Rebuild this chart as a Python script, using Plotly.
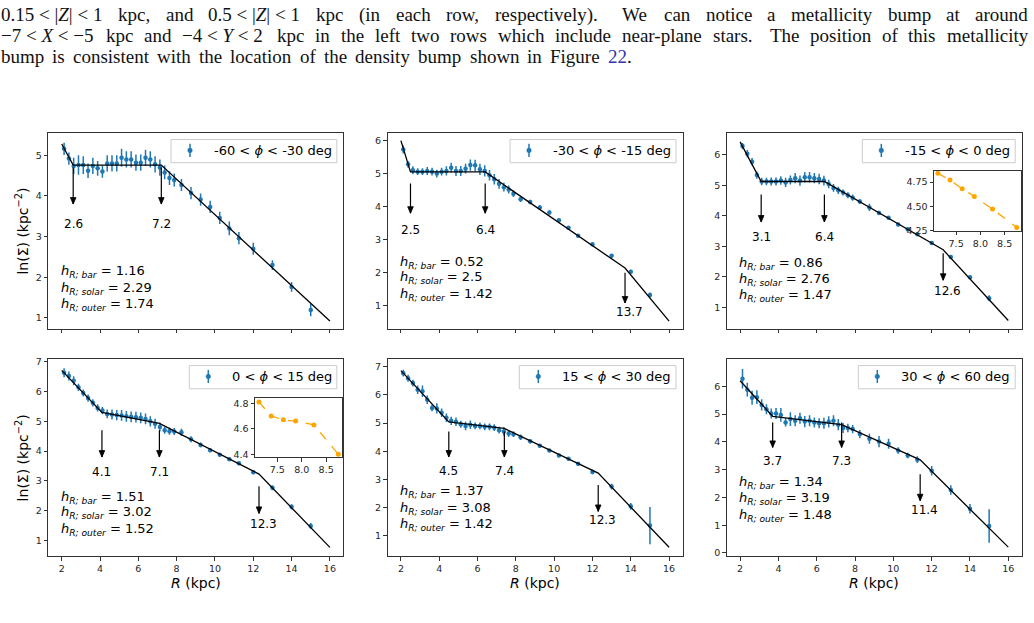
import re
import plotly.graph_objects as go

W, H = 1034, 623

# ------------------------------------------------------------------ data
R_KPC = [2.125, 2.375, 2.625, 2.875, 3.125, 3.375, 3.625, 3.875, 4.125, 4.375,
         4.625, 4.875, 5.125, 5.375, 5.625, 5.875, 6.125, 6.375, 6.625, 6.875,
         7.125, 7.375, 7.625, 7.875, 8.25, 8.75, 9.25, 9.75, 10.25, 10.75,
         11.25, 12.0, 13.0, 14.0, 15.0]

LN_SIGMA_P1 = [5.16, 4.92, 4.74, 4.76, 4.76, 4.62, 4.74, 4.68, 4.60, 4.80,
               4.80, 4.80, 4.94, 4.90, 4.90, 4.82, 4.82, 4.94, 4.90, 4.78,
               4.70, 4.58, 4.44, 4.39, 4.27, 4.07, 3.91, 3.73, 3.46, 3.20,
               2.96, 2.70, 2.30, 1.76, 1.19]
ERR_P1 = [0.15, 0.15, 0.20, 0.24, 0.22, 0.18, 0.20, 0.18, 0.15, 0.20,
          0.20, 0.20, 0.22, 0.20, 0.20, 0.20, 0.20, 0.20, 0.20, 0.20,
          0.20, 0.17, 0.17, 0.16, 0.15, 0.15, 0.15, 0.15, 0.15, 0.17,
          0.15, 0.15, 0.12, 0.12, 0.15]

LN_SIGMA_P2 = [5.73, 5.28, 5.10, 5.06, 5.06, 5.08, 5.06, 5.00, 5.06, 5.08,
               5.18, 5.08, 5.08, 5.15, 5.26, 5.25, 5.13, 5.08, 4.95, 4.83,
               4.69, 4.59, 4.52, 4.39, 4.22, 4.14, 3.97, 3.82, 3.59, 3.36,
               3.12, 2.86, 2.51, 2.03, 1.32]
ERR_P2 = [0.12, 0.10, 0.12, 0.10, 0.10, 0.12, 0.12, 0.12, 0.12, 0.14,
          0.15, 0.15, 0.15, 0.15, 0.17, 0.17, 0.17, 0.17, 0.16, 0.16,
          0.15, 0.13, 0.12, 0.10, 0.08, 0.07, 0.07, 0.06, 0.05, 0.05,
          0.05, 0.04, 0.05, 0.06, 0.08]

LN_SIGMA_P3 = [6.29, 6.04, 5.78, 5.34, 5.13, 5.13, 5.13, 5.13, 5.16, 5.10,
               5.18, 5.24, 5.16, 5.27, 5.27, 5.24, 5.21, 5.16, 5.05, 4.92,
               4.84, 4.77, 4.68, 4.60, 4.47, 4.28, 4.10, 3.94, 3.72, 3.56,
               3.40, 3.11, 2.65, 1.99, 1.30]
ERR_P3 = [0.10, 0.12, 0.12, 0.12, 0.12, 0.12, 0.13, 0.13, 0.14, 0.15,
          0.15, 0.17, 0.17, 0.17, 0.17, 0.17, 0.17, 0.16, 0.14, 0.13,
          0.12, 0.10, 0.10, 0.10, 0.08, 0.12, 0.07, 0.06, 0.06, 0.05,
          0.05, 0.05, 0.05, 0.06, 0.10]

LN_SIGMA_P4 = [6.63, 6.52, 6.36, 6.14, 5.95, 5.78, 5.62, 5.45, 5.36, 5.25,
               5.23, 5.21, 5.20, 5.17, 5.15, 5.14, 5.12, 5.08, 5.00, 4.92,
               4.81, 4.70, 4.67, 4.66, 4.63, 4.40, 4.21, 4.03, 3.88, 3.73,
               3.59, 3.29, 2.77, 2.13, 1.49]
ERR_P4 = [0.15, 0.15, 0.15, 0.12, 0.12, 0.12, 0.12, 0.12, 0.12, 0.15,
          0.17, 0.17, 0.18, 0.18, 0.18, 0.18, 0.18, 0.18, 0.17, 0.17,
          0.15, 0.12, 0.12, 0.12, 0.12, 0.10, 0.08, 0.07, 0.06, 0.06,
          0.06, 0.07, 0.08, 0.09, 0.10]

LN_SIGMA_P5 = [6.77, 6.59, 6.42, 6.18, 6.13, 5.83, 5.54, 5.52, 5.37, 5.19,
               5.08, 5.05, 4.96, 4.90, 4.94, 4.90, 4.90, 4.87, 4.87, 4.84,
               4.75, 4.70, 4.63, 4.61, 4.50, 4.36, 4.20, 4.03, 3.85, 3.74,
               3.56, 3.27, 2.75, 2.05, 1.37]
ERR_P5 = [0.12, 0.12, 0.12, 0.15, 0.20, 0.15, 0.12, 0.18, 0.15, 0.15,
          0.15, 0.15, 0.12, 0.15, 0.15, 0.12, 0.12, 0.12, 0.12, 0.12,
          0.12, 0.15, 0.12, 0.10, 0.10, 0.08, 0.06, 0.05, 0.05, 0.06,
          0.06, 0.08, 0.10, 0.12, 0.66]

LN_SIGMA_P6 = [6.27, 5.88, 5.59, 5.61, 5.33, 5.17, 5.02, 5.02, 4.97, 4.70,
               4.82, 4.76, 4.85, 4.73, 4.76, 4.70, 4.67, 4.67, 4.72, 4.76,
               4.62, 4.50, 4.50, 4.46, 4.28, 4.11, 4.01, 3.93, 3.69, 3.51,
               3.36, 2.96, 2.27, 1.59, 0.97]
ERR_P6 = [0.35, 0.25, 0.25, 0.25, 0.20, 0.18, 0.18, 0.20, 0.25, 0.15,
          0.25, 0.20, 0.20, 0.20, 0.20, 0.18, 0.18, 0.20, 0.20, 0.20,
          0.20, 0.18, 0.15, 0.15, 0.15, 0.18, 0.20, 0.18, 0.12, 0.10,
          0.12, 0.17, 0.17, 0.17, 0.60]

# broken-line fits (nodes: start, breaks..., end)
FIT_R_P1 = [2.0, 2.6, 7.2, 16.0]
FIT_Y_P1 = [5.28, 4.76, 4.76, 0.92]
FIT_R_P2 = [2.0, 2.5, 6.4, 13.7, 16.0]
FIT_Y_P2 = [6.00, 5.05, 5.05, 2.14, 0.53]
FIT_R_P3 = [2.0, 3.1, 6.4, 12.6, 16.0]
FIT_Y_P3 = [6.43, 5.13, 5.13, 2.89, 0.57]
FIT_R_P4 = [2.0, 4.1, 7.1, 12.3, 16.0]
FIT_Y_P4 = [6.71, 5.30, 4.93, 3.23, 0.77]
FIT_R_P5 = [2.0, 4.5, 7.4, 12.3, 16.0]
FIT_Y_P5 = [6.86, 5.04, 4.81, 3.23, 0.60]
FIT_R_P6 = [2.0, 3.7, 7.3, 11.4, 16.0]
FIT_Y_P6 = [6.20, 4.92, 4.62, 3.35, 0.21]

H_BAR = [1.16, 0.52, 0.86, 1.51, 1.37, 1.34]
H_SOLAR = [2.29, 2.5, 2.76, 3.02, 3.08, 3.19]
H_OUTER = [1.74, 1.42, 1.47, 1.52, 1.42, 1.48]

PHI_LABELS = ["-60 &lt; <i>ϕ</i> &lt; -30 deg", "-30 &lt; <i>ϕ</i> &lt; -15 deg",
              "-15 &lt; <i>ϕ</i> &lt; 0 deg", "0 &lt; <i>ϕ</i> &lt; 15 deg",
              "15 &lt; <i>ϕ</i> &lt; 30 deg", "30 &lt; <i>ϕ</i> &lt; 60 deg"]

INSET_FIRST, INSET_LAST = 20, 26   # R = 7.125 ... 8.75
INSET_PANELS = [2, 3]

LINE1_WORDS = ["0.15 &lt; |<i>Z</i>| &lt; 1", "kpc,", "and", "0.5 &lt; |<i>Z</i>| &lt; 1", "kpc",
               "(in", "each", "row,", "respectively).", "We", "can", "notice", "a",
               "metallicity", "bump", "at", "around"]
LINE2_WORDS = ["−7 &lt; <i>X</i> &lt; −5", "kpc", "and", "−4 &lt; <i>Y</i> &lt; 2", "kpc", "in",
               "the", "left", "two", "rows", "which", "include", "near-plane", "stars.",
               "The", "position", "of", "this", "metallicity"]
LINE3_WORDS = ["bump", "is", "consistent", "with", "the", "location", "of", "the", "density",
               "bump", "shown", "in", "Figure", "<span style='color:#3434b0'>22</span>."]

PANELS = [
    (LN_SIGMA_P1, ERR_P1, FIT_R_P1, FIT_Y_P1),
    (LN_SIGMA_P2, ERR_P2, FIT_R_P2, FIT_Y_P2),
    (LN_SIGMA_P3, ERR_P3, FIT_R_P3, FIT_Y_P3),
    (LN_SIGMA_P4, ERR_P4, FIT_R_P4, FIT_Y_P4),
    (LN_SIGMA_P5, ERR_P5, FIT_R_P5, FIT_Y_P5),
    (LN_SIGMA_P6, ERR_P6, FIT_R_P6, FIT_Y_P6),
]

# ------------------------------------------------------------------ layout geometry (pixels)
COLS = [(48.3, 343.3), (387.5, 682.5), (726.7, 1021.7)]
ROWS = [(131.7, 330.0), (360.7, 560.5)]
X_RANGE = [1.3, 16.7]
Y_RANGES = [[0.73, 5.55], [0.30, 6.23], [0.30, 6.72], [0.47, 7.09], [0.28, 7.27], [-0.12, 6.98]]
H_TEXT_Y = [[2.13, 1.72, 1.33], [2.31, 1.84, 1.35], [2.44, 1.92, 1.40],
            [2.46, 1.93, 1.38], [2.57, 1.99, 1.41], [2.53, 1.95, 1.36]]
ARROW_MAIN = (4.70, 3.80, 3.30)          # top, bottom, label y for first two breaks
ARROW_OUTER = [None, (2.00, 1.08, 0.82), (2.78, 1.89, 1.54), (2.82, 1.91, 1.55),
               (2.81, 1.87, 1.56), (2.83, 1.88, 1.54)]
LEGEND_BOX_LEFT = [171.0, 510.0, 862.3, 189.3, 519.3, 858.3]
INSET_BOX = {2: (934.0, 1020.7, 170.0, 230.7), 3: (255.0, 342.3, 400.0, 460.0)}
INSET_YR = {2: ([4.246, 4.866], 0.25, '.2f'), 3: ([4.378, 4.842], 0.2, '.1f')}

BLUE = '#1f77b4'
AX_COL = '#333333'


def px_x(px):
    return px / W


def px_y(py):
    return 1 - py / H


def aid(n):
    return '' if n == 1 else str(n)


axis_style = dict(showline=True, linecolor=AX_COL, linewidth=1, mirror=True,
                  ticks='outside', ticklen=3.5, tickwidth=0.8, tickcolor=AX_COL,
                  showgrid=False, zeroline=False,
                  tickfont=dict(family='DejaVu Sans', size=9.5, color='#262626'))

fig = go.Figure()
layout = dict(width=W, height=H, margin=dict(l=0, r=0, t=0, b=0), autosize=False,
              paper_bgcolor='white', plot_bgcolor='white', showlegend=False,
              font=dict(family='DejaVu Sans', color='black'))
annotations = []
shapes = []


def label(x, y, text, xref, yref, size, xanchor='center', yanchor='middle', **kw):
    d = dict(x=x, y=y, xref=xref, yref=yref, text=text, showarrow=False,
             xanchor=xanchor, yanchor=yanchor, borderpad=0, borderwidth=0,
             font=dict(size=size, color=kw.pop('color', 'black'), family=kw.pop('family', 'DejaVu Sans')))
    d.update(kw)
    annotations.append(d)


for i, (lny, err, fr, fy) in enumerate(PANELS):
    n = i + 1
    row, col = divmod(i, 3)
    c0, c1 = COLS[col]
    r0, r1 = ROWS[row]
    xa, ya = 'x' + aid(n), 'y' + aid(n)
    layout['xaxis' + aid(n)] = dict(domain=[px_x(c0), px_x(c1)], range=X_RANGE, anchor=ya,
                                    dtick=2, tick0=0, showticklabels=(row == 1), **axis_style)
    layout['yaxis' + aid(n)] = dict(domain=[px_y(r1), px_y(r0)], range=Y_RANGES[i], anchor=xa,
                                    dtick=1, tick0=0, **axis_style)

    fig.add_trace(go.Scatter(x=R_KPC, y=lny, mode='markers', xaxis=xa, yaxis=ya,
                             marker=dict(color=BLUE, size=4.5),
                             error_y=dict(type='data', array=err, color=BLUE, thickness=1.5, width=0)))
    fig.add_trace(go.Scatter(x=fr, y=fy, mode='lines', xaxis=xa, yaxis=ya,
                             line=dict(color='black', width=1.3)))

    # break arrows and labels
    breaks = fr[1:-1]
    for k, b in enumerate(breaks):
        if k < 2:
            top, bot, laby = ARROW_MAIN
            labx = b
        else:
            top, bot, laby = ARROW_OUTER[i]
            labx = b + 0.22
        shapes.append(dict(type='line', xref=xa, yref=ya, x0=b, x1=b, y0=top, y1=bot,
                           line=dict(color='black', width=1.2), layer='above'))
        shapes.append(dict(type='path', xref=xa, yref=ya, xsizemode='pixel', ysizemode='pixel',
                           xanchor=b, yanchor=bot, path='M-2.8,6.5 L2.8,6.5 L0,0 Z',
                           fillcolor='black', line=dict(color='black', width=0.8), layer='above'))
        label(labx, laby, f"{b:.1f}", xa, ya, 12)

    # scale-length texts
    for k, (name, v) in enumerate([('bar', H_BAR[i]), ('solar', H_SOLAR[i]), ('outer', H_OUTER[i])]):
        label(1.95, H_TEXT_Y[i][k], f"<i>h</i><sub><i>R; {name}</i></sub> = {v:g}", xa, ya, 13,
              xanchor='left')

    # legend box
    top_px = r0 + 6.6
    bl = LEGEND_BOX_LEFT[i]
    shapes.append(dict(type='rect', xref='paper', yref='paper', x0=px_x(bl), x1=px_x(c1 - 6.5),
                       y0=px_y(top_px + 23.5), y1=px_y(top_px), line=dict(color='#cccccc', width=1),
                       fillcolor='rgba(255,255,255,0.8)', layer='above'))
    ix = bl + 19
    shapes.append(dict(type='line', xref='paper', yref='paper', x0=px_x(ix), x1=px_x(ix),
                       y0=px_y(top_px + 17.7), y1=px_y(top_px + 4.4),
                       line=dict(color=BLUE, width=1.5), layer='above'))
    shapes.append(dict(type='circle', xref='paper', yref='paper', x0=px_x(ix - 2.3), x1=px_x(ix + 2.3),
                       y0=px_y(top_px + 11 + 2.3), y1=px_y(top_px + 11 - 2.3),
                       line=dict(color=BLUE, width=0.5), fillcolor=BLUE, layer='above'))
    label(px_x(bl + 43), px_y(top_px + 11.5), PHI_LABELS[i], 'paper', 'paper', 13, xanchor='left')

    if col == 0:
        label(px_x(21.7), px_y((r0 + r1) / 2), 'ln(Σ) (kpc<sup>−2</sup>)', 'paper', 'paper', 14,
              textangle=-90)
    if row == 1:
        label(px_x((c0 + c1) / 2), px_y(587.5), '<i>R</i> (kpc)', 'paper', 'paper', 14)

# insets
for j, p in enumerate(INSET_PANELS):
    n = 7 + j
    xa, ya = 'x' + aid(n), 'y' + aid(n)
    bx0, bx1, by0, by1 = INSET_BOX[p]
    yr, dt, fmt = INSET_YR[p]
    layout['xaxis' + aid(n)] = dict(domain=[px_x(bx0), px_x(bx1)], range=[7.044, 8.831], anchor=ya,
                                    dtick=0.5, tick0=0, tickformat='.1f', **axis_style)
    layout['yaxis' + aid(n)] = dict(domain=[px_y(by1), px_y(by0)], range=yr, anchor=xa,
                                    dtick=dt, tick0=0, tickformat=fmt, **axis_style)
    fig.add_trace(go.Scatter(x=R_KPC[INSET_FIRST:INSET_LAST], y=PANELS[p][0][INSET_FIRST:INSET_LAST],
                             mode='lines+markers', xaxis=xa, yaxis=ya,
                             line=dict(color='orange', width=1.3, dash='dash'),
                             marker=dict(color='orange', size=5)))

# paragraph text (justified, word by word)
TIMES_W = {' ': 250, '(': 333, ')': 333, ',': 250, '-': 333, '.': 250, '<': 564, '|': 200,
           '−': 564, 'F': 556, 'T': 611, 'W': 944, 'X': 722, 'Y': 722, 'Z': 611,
           'a': 444, 'b': 500, 'c': 444, 'd': 500, 'e': 444, 'f': 333, 'g': 500, 'h': 500,
           'i': 278, 'j': 278, 'k': 500, 'l': 278, 'm': 778, 'n': 500, 'o': 500, 'p': 500,
           'q': 500, 'r': 333, 's': 389, 't': 278, 'u': 500, 'v': 500, 'w': 722, 'x': 500,
           'y': 500, 'z': 444}
PARA_SIZE = 19


def text_w(html, size):
    plain = re.sub(r'<[^>]+>', '', html).replace('&lt;', '<')
    return sum(TIMES_W.get(c, 500) for c in plain) * size / 1000.0


for words, yc, x_end, wide_after in [(LINE1_WORDS, 11.7, 1028.0, {8}),
                                     (LINE2_WORDS, 33.3, 1028.0, {13}),
                                     (LINE3_WORDS, 54.0, 632.0, set())]:
    widths = [text_w(w, PARA_SIZE) for w in words]
    weights = [1.6 if k in wide_after else 1.0 for k in range(len(words) - 1)]
    unit = (x_end - 0.5 - sum(widths)) / sum(weights)
    x = 0.5
    for k, w in enumerate(words):
        label(px_x(x), px_y(yc), w, 'paper', 'paper', PARA_SIZE, xanchor='left',
              family='Liberation Serif', color='#111111')
        if k < len(words) - 1:
            x += widths[k] + unit * weights[k]

layout['annotations'] = annotations
layout['shapes'] = shapes
fig.update_layout(**layout)
fig.write_html("out.html")
